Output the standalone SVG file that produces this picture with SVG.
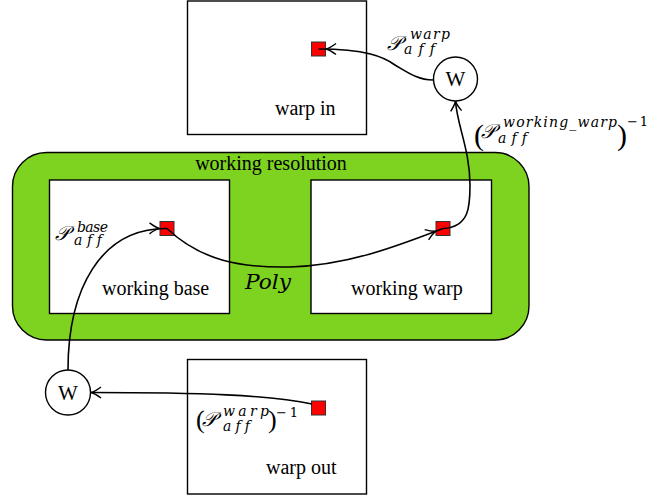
<svg xmlns="http://www.w3.org/2000/svg" width="666" height="496" viewBox="0 0 666 496">
<style>
.box{fill:#fff;stroke:#000;stroke-width:1.4}
.sq{fill:#ff0000;stroke:#333;stroke-width:1}
.con{fill:none;stroke:#000;stroke-width:1.6}
.circ{fill:#fff;stroke:#000;stroke-width:1.4}
.t{font-family:"Liberation Serif","Times New Roman",serif;font-size:20px;fill:#000}
.p{font-family:"Liberation Serif","Times New Roman",serif;fill:#000}
.m{font-family:"DejaVu Serif","Liberation Serif",serif;font-style:italic;font-size:20px;fill:#000}
.s{font-family:"DejaVu Serif","Liberation Serif",serif;font-style:italic;font-size:14px;fill:#000;font-variant-ligatures:none;font-feature-settings:"liga" 0}
.u{font-family:"DejaVu Serif","Liberation Serif",serif;font-size:13px;fill:#000}
.w{font-family:"Liberation Serif","Times New Roman",serif;font-size:21px;fill:#000;text-anchor:middle}
</style>
<defs>
<marker id="arr" markerUnits="userSpaceOnUse" markerWidth="14" markerHeight="14" refX="0" refY="0" orient="auto" overflow="visible">
<path d="M -10 -5.5 Q -4 -1 0 0 Q -4 1 -10 5.5" fill="none" stroke="#000" stroke-width="1.4"/>
</marker>
<marker id="arrsq" markerUnits="userSpaceOnUse" markerWidth="14" markerHeight="14" refX="7.5" refY="0" orient="auto" overflow="visible">
<path d="M -10 -5.5 Q -4 -1 0 0 Q -4 1 -10 5.5" fill="none" stroke="#000" stroke-width="1.4"/>
</marker>
</defs>

<g id="working-resolution">
<rect x="12.5" y="152.5" width="516.5" height="187.5" rx="34" ry="34" fill="#7ed321" stroke="#000" stroke-width="1.4"/>
<text class="t" x="271" y="170" text-anchor="middle">working resolution</text>
<text class="s" x="245" y="289" style="font-size:20px" textLength="46" lengthAdjust="spacingAndGlyphs">Poly</text>
</g>

<g id="warp-in">
<rect class="box" x="187.5" y="1" width="179" height="133.5"/>
<text class="t" x="275" y="115">warp in</text>
<rect class="sq" x="311.5" y="42" width="14" height="14"/>
</g>

<g id="working-base">
<rect class="box" x="49.5" y="180" width="180" height="133.5"/>
<text class="t" x="102" y="295">working base</text>
<rect class="sq" x="160" y="221.5" width="14" height="14"/>
</g>

<g id="working-warp">
<rect class="box" x="311" y="180" width="180.5" height="133.5"/>
<text class="t" x="351" y="295">working warp</text>
<rect class="sq" x="436" y="221.5" width="14" height="14"/>
</g>

<g id="warp-out">
<rect class="box" x="187.5" y="359.5" width="179" height="134.5"/>
<text class="t" x="266" y="474">warp out</text>
<rect class="sq" x="311.5" y="401" width="14" height="14"/>
</g>

<g id="connectors">
<path class="con" d="M 433,80 C 418,80 407,72 395,65 C 384,57 366,49 318.5,49" marker-end="url(#arrsq)"/>
<path class="con" d="M 443,228.5 C 470,227 470,205 470,185 C 470,150 457,125 455.5,101" marker-end="url(#arr)"/>
<path class="con" d="M 167,228.5 C 200,260 240,268 290,267 C 350,265 400,245 443,228.5" marker-end="url(#arrsq)"/>
<path class="con" d="M 68,370 C 68,290 100,228 167,228.5" marker-end="url(#arrsq)"/>
<path class="con" d="M 312,404 C 270,395 200,392.5 91,392.5" marker-end="url(#arr)"/>
</g>

<g id="w-top">
<circle class="circ" cx="455.5" cy="79" r="22"/>
<text class="w" x="455.5" y="86">W</text>
</g>

<g id="w-bottom">
<circle class="circ" cx="68" cy="392.5" r="22.5"/>
<text class="w" x="68" y="399.5">W</text>
</g>

<g id="label-warp">
<text class="m" x="387" y="50">𝒫</text>
<text class="s" x="410" y="39" textLength="40" lengthAdjust="spacing">warp</text>
<text class="s" x="404" y="54" textLength="31" lengthAdjust="spacing">aff</text>
</g>

<g id="label-working-warp">
<text class="p" x="474" y="145" style="font-size:30px">(</text>
<text class="m" x="481" y="138">𝒫</text>
<text class="s" x="503" y="126.5" textLength="114" lengthAdjust="spacing">working_warp</text>
<text class="s" x="498" y="143" textLength="29" lengthAdjust="spacing">aff</text>
<text class="p" x="617" y="145" style="font-size:30px">)</text>
<text class="u" x="627" y="125.5" textLength="21" lengthAdjust="spacing">−1</text>
</g>

<g id="label-base">
<text class="m" x="55" y="240">𝒫</text>
<text class="s" x="77" y="232" textLength="31" lengthAdjust="spacing">base</text>
<text class="s" x="74" y="245" textLength="28" lengthAdjust="spacing">aff</text>
</g>

<g id="label-warp-inv">
<text class="p" x="196" y="428" style="font-size:26px">(</text>
<text class="m" x="202" y="426">𝒫</text>
<text class="s" x="223" y="416" textLength="46" lengthAdjust="spacing">warp</text>
<text class="s" x="223" y="431" textLength="27" lengthAdjust="spacing">aff</text>
<text class="p" x="268" y="428" style="font-size:26px">)</text>
<text class="u" x="276" y="417" textLength="22" lengthAdjust="spacing">−1</text>
</g>
</svg>
